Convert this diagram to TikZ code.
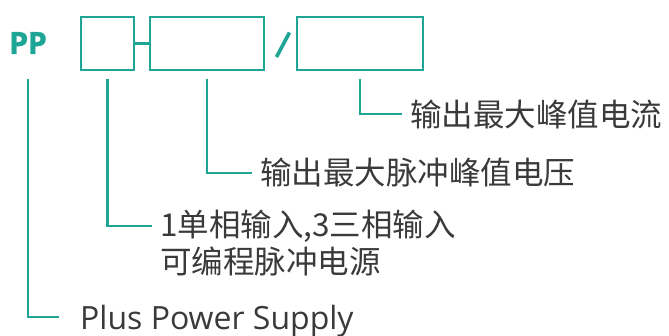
\documentclass[tikz,border=0pt]{standalone}
\usepackage{fontspec}
\setmainfont{Open Sans}
\newfontfamily\cjk{Noto Sans CJK SC}
\usetikzlibrary{positioning}

\definecolor{pcgreen}{HTML}{1FA595}
\definecolor{pctext}{HTML}{3A3A3A}

\tikzset{
  codebox/.style={draw=pcgreen, line width=2.6pt, minimum height=53pt, inner sep=0pt},
  lead/.style={draw=pcgreen, line width=2.4pt, shorten <=8pt, shorten >=8pt},
  cnlabel/.style={anchor=west, inner sep=0pt, text=pctext, font=\cjk\fontsize{31.5}{34}\selectfont},
}

\begin{document}
\begin{tikzpicture}[x=1pt, y=-1pt]
    \useasboundingbox (0,0) rectangle (669,336);

    % model code
    \node[text=pcgreen, font=\bfseries\addfontfeatures{FakeBold=1.2}\fontsize{30.5}{31}\selectfont, inner sep=0pt] (pp) at (28,43) {P\kern-0.5pt P};
    \node[codebox, minimum width=53pt] (phbox) at (107.5,43.5) {};
    \node[codebox, minimum width=114pt] (vbox) at (207,43.5) {};
    \node[codebox, minimum width=126pt] (ibox) at (360,43.5) {};

    \draw[pcgreen, line width=2.4pt] (phbox.east) -- (vbox.west);
    \draw[pcgreen, line width=3.6pt] (276.5,57) -- (289.5,32.5);

    % meanings
    \node[cnlabel] (cur) at (410,114) {输出最大峰值电流};
    \node[cnlabel] (volt) at (260,173) {输出最大脉冲峰值电压};
    \node[cnlabel] (phase) at (160,226) {1单相输入,3三相输入};
    \node[cnlabel, below=4pt of phase.south west, anchor=north west] (phase2) {可编程脉冲电源};
    \node[anchor=west, inner sep=0pt, text depth=0pt, text=pctext, font=\fontsize{32}{34}\selectfont] (plus) at (80,317) {Plus Power Supply};

    \draw[lead] (ibox.south) |- (cur.west);
    \draw[lead] (vbox.south) |- (volt.west);
    \draw[lead] (phbox.south) |- (phase.west);
    \draw[lead, shorten <=25pt, shorten >=21pt] (pp.south) |- (plus.west);

\end{tikzpicture}
\end{document}
